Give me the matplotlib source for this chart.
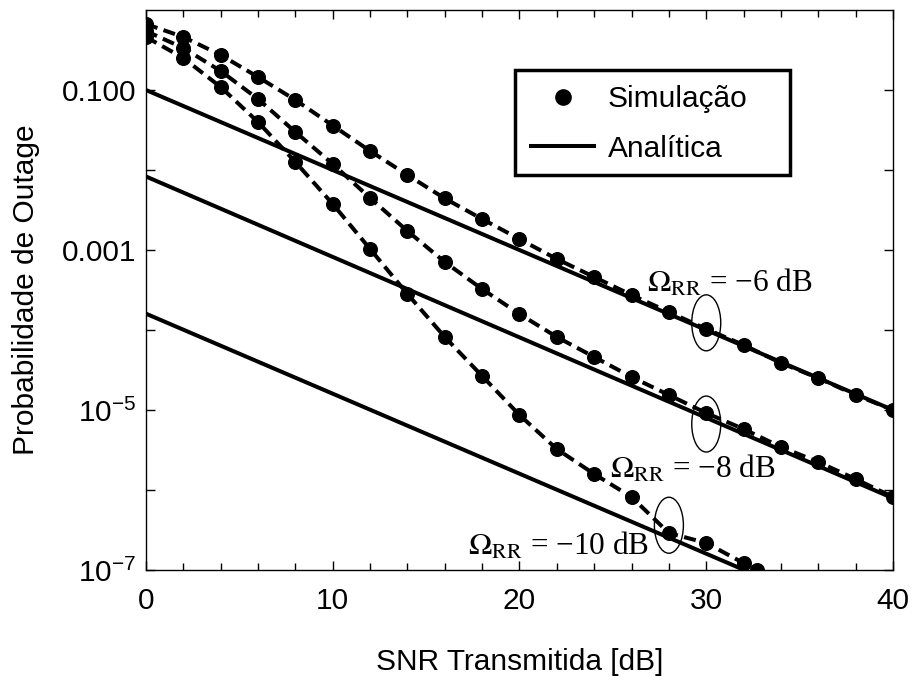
import matplotlib

matplotlib.use("Agg")
import matplotlib.pyplot as plt
from matplotlib import transforms
from matplotlib.lines import Line2D
from matplotlib.patches import Ellipse, Rectangle

plt.rcParams["font.family"] = ["Liberation Sans", "DejaVu Sans"]
plt.rcParams["mathtext.fontset"] = "custom"
plt.rcParams["mathtext.rm"] = "Liberation Sans"
plt.rcParams["mathtext.it"] = "Liberation Sans:italic"

# simulated outage
snr_sim = [0, 2, 4, 6, 8, 10, 12, 14, 16, 18, 20, 22, 24, 26, 28, 30, 32, 34, 36, 38, 40]
sim_m6 = [0.668, 0.46, 0.274, 0.1454, 0.075, 0.036, 0.0173, 8.66e-3, 4.41e-3, 2.44e-3,
          1.37e-3, 7.72e-4, 4.6e-4, 2.74e-4, 1.68e-4, 1.03e-4, 6.5e-5, 3.87e-5, 2.51e-5,
          1.54e-5, 1.0e-5]
sim_m8 = [0.546, 0.335, 0.1728, 0.0772, 0.02985, 0.01189, 4.47e-3, 1.728e-3, 7.08e-4,
          3.25e-4, 1.585e-4, 8.18e-5, 4.6e-5, 2.59e-5, 1.54e-5, 9.17e-6, 5.79e-6, 3.45e-6,
          2.24e-6, 1.37e-6, 8.18e-7]
snr_sim_m10 = [0, 2, 4, 6, 8, 10, 12, 14, 16, 18, 20, 22, 24, 26, 28, 30, 32, 32.7]
sim_m10 = [0.46, 0.251, 0.109, 0.0398, 0.01259, 3.76e-3, 1.03e-3, 2.82e-4, 8.18e-5,
           2.66e-5, 8.66e-6, 3.25e-6, 1.585e-6, 8.18e-7, 2.9e-7, 2.18e-7, 1.22e-7, 1.0e-7]

# analytical curves (straight on the log axis)
snr_ana = [0, 40]
ana_m6 = [1e-1, 1e-5]
ana_m8 = [8.3e-3, 7.9e-7]
ana_m10 = [1.6e-4, 1.6e-8]

# annotations: (text, x, y) and ellipse centres
labels = [
    (r"$\Omega_{\mathrm{RR}}$ = −6 dB", 26.83, 2.99e-4),
    (r"$\Omega_{\mathrm{RR}}$ = −8 dB", 24.85, 1.41e-6),
    (r"$\Omega_{\mathrm{RR}}$ = −10 dB", 17.24, 1.55e-7),
]
ellipse_centres = [(30, 1.23e-4), (30, 6.68e-6), (28, 3.63e-7)]

yticks = [1e-1, 1e-2, 1e-3, 1e-4, 1e-5, 1e-6, 1e-7]
ytick_labels = ["0.100", "", "0.001", "", r"$10^{-5}$", "", r"$10^{-7}$"]

fig = plt.figure(figsize=(9.13, 6.77), dpi=100)
ax = fig.add_axes([0.1599, 0.158, 0.8182, 0.8272])

lw = 2.9
dash = (0, (3.0, 1.6))
for y in (sim_m6, sim_m8):
    ax.plot(snr_sim, y, color="black", lw=lw, linestyle=dash, marker="o", ms=9.8)
ax.plot(snr_sim_m10, sim_m10, color="black", lw=lw, linestyle=dash, marker="o", ms=9.8)
for y in (ana_m6, ana_m8, ana_m10):
    ax.plot(snr_ana, y, color="black", lw=lw, solid_capstyle="butt")

ax.set_yscale("log")
ax.set_xlim(0, 40)
ax.set_ylim(1e-7, 1.0)
ax.set_xticks([0, 10, 20, 30, 40])
ax.set_xticks(range(0, 41, 2), minor=True)
ax.set_yticks(yticks)
ax.set_yticklabels(ytick_labels)
ax.yaxis.set_minor_locator(matplotlib.ticker.NullLocator())
ax.tick_params(which="both", direction="in", top=True, right=True, labelsize=21.5, width=1.0)
ax.tick_params(which="major", length=6.5)
ax.tick_params(which="minor", length=5.0)
ax.tick_params(axis="x", pad=12)
ax.tick_params(axis="y", pad=7)
for spine in ax.spines.values():
    spine.set_linewidth(1.0)

ax.set_xlabel("SNR Transmitida [dB]", fontsize=21.5, labelpad=24)
ax.set_ylabel("Probabilidade de Outage", fontsize=21.5, labelpad=16)

for text, x, y in labels:
    ax.text(x, y, text, fontsize=22.5, family="Liberation Serif", math_fontfamily="stix",
            ha="left", va="baseline")

for x, y in ellipse_centres:
    offset = transforms.ScaledTranslation(x, y, ax.transData)
    ax.add_patch(Ellipse((0, 0), 0.29, 0.56, transform=fig.dpi_scale_trans + offset,
                         fill=False, edgecolor="black", lw=1.0, clip_on=False))

# legend box drawn by hand, it is wider than the entries
ax.add_patch(Rectangle((0.494, 0.705), 0.368, 0.188, transform=ax.transAxes,
                       fill=True, facecolor="white", edgecolor="black", lw=2.5, zorder=4))
handles = [
    Line2D([], [], color="black", linestyle="none", marker="o", ms=11),
    Line2D([], [], color="black", lw=lw),
]
leg = ax.legend(handles, ["Simulação", "Analítica"], loc="upper left",
                bbox_to_anchor=(0.502, 0.884), fontsize=21.5, frameon=False,
                handlelength=2.1, handletextpad=0.45, labelspacing=0.72,
                borderpad=0.35, borderaxespad=0.0)
leg.set_zorder(5)

fig.savefig("out.png", dpi=100)
